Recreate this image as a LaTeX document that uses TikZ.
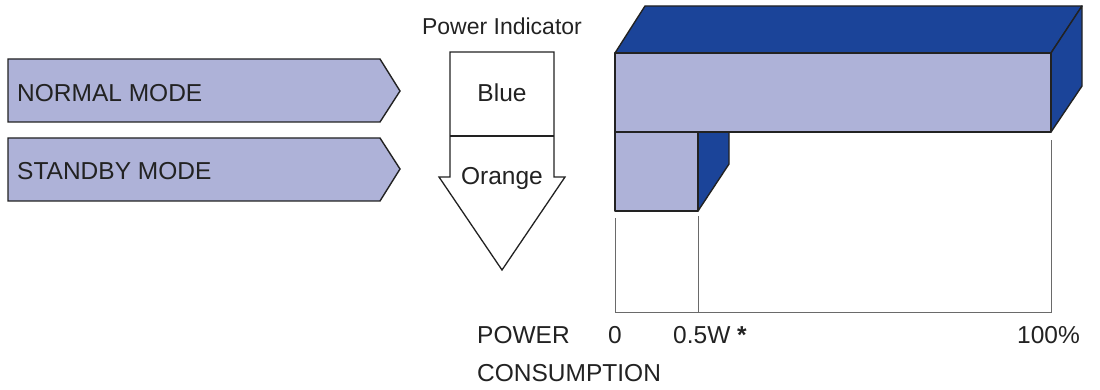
\documentclass[tikz,border=0pt]{standalone}
\usepackage{fontspec}
\setmainfont{Liberation Sans}
\definecolor{lav}{HTML}{AEB2D8}
\definecolor{dblue}{HTML}{1B4499}
\definecolor{edge}{HTML}{222222}
\definecolor{axis}{HTML}{6A6A6A}
\begin{document}
\begin{tikzpicture}[x=1pt,y=-1pt,
  modebox/.style={fill=lav,draw=edge,line width=1.4pt,line join=miter},
  front/.style={fill=lav,draw=edge,line width=1.4pt,line join=round},
  side/.style={fill=dblue,draw=edge,line width=1.4pt,line join=round},
  axisline/.style={draw=axis,line width=1pt},
  lbl/.style={inner sep=0pt,font=\fontsize{24.5}{28}\selectfont,text=edge},
  small/.style={inner sep=0pt,font=\fontsize{23}{27}\selectfont,text=edge}]
\useasboundingbox (0,0) rectangle (1100,390);
% mode arrows
\draw[modebox] (8,59) -- (380,59) -- (400,91) -- (380,122) -- (8,122) -- cycle;
\draw[modebox] (8,138) -- (380,138) -- (400,169) -- (380,201) -- (8,201) -- cycle;
\node[lbl,anchor=base west] (normal) at (17,102) {NORMAL MODE};
\node[lbl,anchor=base west] (standby) at (17,180) {STANDBY MODE};
% power indicator arrow
\node[small,anchor=base] (pi) at (502,35) {Power Indicator};
\draw[line width=1.3pt,draw=edge,fill=white,line join=miter]
  (450,52) -- (554,52) -- (554,177) -- (565,177) -- (502,270) -- (439,177) -- (450,177) -- cycle;
\draw[line width=1.3pt,draw=edge] (450,136) -- (554,136);
\node[lbl,anchor=base] (blue) at (502,102) {Blue};
\node[lbl,anchor=base] (orange) at (502,185) {Orange};
% axis lines
\draw[axisline] (615,218) -- (615,312) -- (1051,312) -- (1051,140);
\draw[axisline] (698,216) -- (698,312);
% small bar
\draw[side] (698,132) -- (729,132) -- (729,164) -- (698,211) -- cycle;
\draw[front] (615,132) rectangle (698,211);
% big bar
\draw[side] (615,53) -- (645,6) -- (1082,6) -- (1051,53) -- cycle;
\draw[side] (1051,53) -- (1082,6) -- (1082,86) -- (1051,132) -- cycle;
\draw[front] (615,53) rectangle (1051,132);
% labels
\node[lbl,anchor=base west] (power) at (477,343) {POWER};
\node[lbl,anchor=base west] (cons) at (477,381) {CONSUMPTION};
\node[lbl,anchor=base] (zero) at (615,343) {0};
\node[lbl,anchor=base west] (half) at (673,343) {0.5W \textbf{*}};
\node[lbl,anchor=base east] (full) at (1080,343) {100\%};
\end{tikzpicture}
\end{document}
